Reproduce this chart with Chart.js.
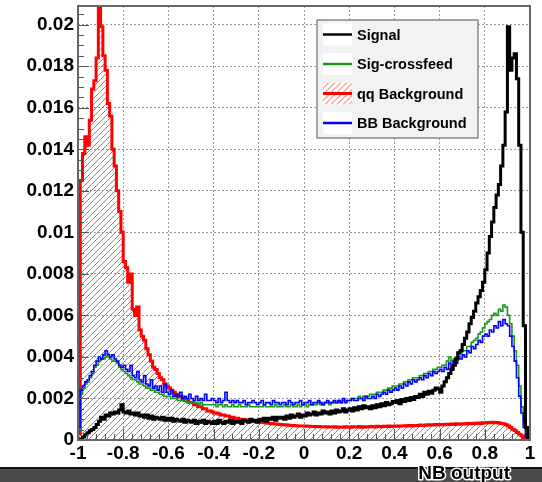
<!DOCTYPE html>
<html>
<head>
<meta charset="utf-8">
<script src="https://cdn.jsdelivr.net/npm/chart.js@4.4.1/dist/chart.umd.min.js"></script>
<style>
  html, body { margin: 0; padding: 0; background: #fff; }
  canvas { display: block; }
</style>
</head>
<body>
<canvas id="nb_output" width="542" height="482"></canvas>
<script>
// NB output histograms, 200 bins of 0.01 from -1 to 1 (one row = 0.1)
const binWidth = 0.01;

const signal = [
  0, 0.00005, 0.00015, 0.00025, 0.00035, 0.00045, 0.0005, 0.0006, 0.00075, 0.0009,
  0.0011, 0.001, 0.0012, 0.00115, 0.0013, 0.00125, 0.00135, 0.0013, 0.00145, 0.0017,
  0.00135, 0.0013, 0.0014, 0.00125, 0.0013, 0.0012, 0.0013, 0.00115, 0.0012, 0.0011,
  0.0012, 0.00105, 0.00115, 0.001, 0.0011, 0.00105, 0.001, 0.0011, 0.00095, 0.00105,
  0.00095, 0.00105, 0.0009, 0.001, 0.00095, 0.0009, 0.001, 0.00085, 0.00095, 0.0009,
  0.00085, 0.00095, 0.0008, 0.0009, 0.00085, 0.00095, 0.0008, 0.0009, 0.00085, 0.0008,
  0.0009, 0.0008, 0.00095, 0.00085, 0.0008, 0.0009, 0.00085, 0.00095, 0.0008, 0.0009,
  0.00085, 0.0009, 0.0008, 0.00095, 0.0009, 0.00085, 0.001, 0.0009, 0.00095, 0.00085,
  0.001, 0.00095, 0.00105, 0.0009, 0.00105, 0.001, 0.0011, 0.00095, 0.0011, 0.00105,
  0.0011, 0.001, 0.00115, 0.00105, 0.0012, 0.0011, 0.00115, 0.00125, 0.0011, 0.0012,
  0.00115, 0.0013, 0.0012, 0.00125, 0.00135, 0.0012, 0.0013, 0.00125, 0.0014, 0.0013,
  0.00135, 0.00125, 0.0014, 0.0013, 0.00145, 0.00135, 0.0014, 0.0015, 0.00135, 0.00145,
  0.0015, 0.0014, 0.00155, 0.00145, 0.0016, 0.0015, 0.00165, 0.00155, 0.0016, 0.0015,
  0.00165, 0.00155, 0.0017, 0.0016, 0.00175, 0.00165, 0.0018, 0.0017, 0.00175, 0.00185,
  0.0018, 0.0019, 0.00175, 0.00195, 0.00185, 0.002, 0.0019, 0.00205, 0.00195, 0.0021,
  0.00205, 0.0022, 0.0021, 0.0023, 0.0022, 0.00235, 0.00225, 0.0024, 0.0025, 0.00245,
  0.0023, 0.0026, 0.0028, 0.003, 0.0032, 0.0034, 0.0036, 0.0039, 0.0042, 0.0043,
  0.0046, 0.0049, 0.0052, 0.0056, 0.0059, 0.0062, 0.0066, 0.0069, 0.0072, 0.0076,
  0.0082, 0.009, 0.0098, 0.0105, 0.0112, 0.0118, 0.0123, 0.0132, 0.0142, 0.0158,
  0.0199, 0.0178, 0.0184, 0.0186, 0.0174, 0.0142, 0.01, 0.0055, 0.0006, 0
];

const sigCrossfeed = [
  0.0005, 0.0022, 0.0025, 0.0027, 0.0028, 0.003, 0.0032, 0.0035, 0.0036, 0.0038,
  0.0039, 0.0039, 0.004, 0.004, 0.0039, 0.0038, 0.0038, 0.0037, 0.0035, 0.0034,
  0.0033, 0.0032, 0.0031, 0.003, 0.0029, 0.0029, 0.0028, 0.0027, 0.0027, 0.0026,
  0.0025, 0.0025, 0.0024, 0.0024, 0.0023, 0.0023, 0.0022, 0.0022, 0.0021, 0.0021,
  0.0021, 0.002, 0.002, 0.002, 0.0019, 0.0019, 0.0019, 0.0019, 0.0018, 0.0018,
  0.0018, 0.0018, 0.0018, 0.0017, 0.0018, 0.0017, 0.0017, 0.0017, 0.0017, 0.0017,
  0.0017, 0.0016, 0.0017, 0.0017, 0.0016, 0.0017, 0.0016, 0.0016, 0.0017, 0.0016,
  0.0016, 0.0017, 0.0016, 0.0016, 0.0016, 0.0017, 0.0016, 0.0016, 0.0016, 0.0016,
  0.0016, 0.0016, 0.0017, 0.0016, 0.0016, 0.0016, 0.0016, 0.0017, 0.0016, 0.0016,
  0.0016, 0.0017, 0.0016, 0.0016, 0.0017, 0.0016, 0.0016, 0.0017, 0.0016, 0.0017,
  0.0017, 0.0016, 0.0017, 0.0017, 0.0017, 0.0017, 0.0018, 0.0017, 0.0017, 0.0018,
  0.0018, 0.0017, 0.0018, 0.0018, 0.0018, 0.0019, 0.0018, 0.0019, 0.0019, 0.0019,
  0.0019, 0.002, 0.002, 0.002, 0.0021, 0.002, 0.0021, 0.0021, 0.0021, 0.0022,
  0.0022, 0.0022, 0.0023, 0.0023, 0.0023, 0.0024, 0.0024, 0.0025, 0.0025, 0.0026,
  0.0026, 0.0026, 0.0027, 0.0027, 0.0028, 0.0028, 0.0029, 0.0029, 0.003, 0.003,
  0.003, 0.0031, 0.0031, 0.0032, 0.0032, 0.0033, 0.0033, 0.0034, 0.0034, 0.0035,
  0.0035, 0.0036, 0.0036, 0.0038, 0.004, 0.0038, 0.0039, 0.004, 0.0041, 0.0042,
  0.0043, 0.0043, 0.0045, 0.0045, 0.0047, 0.0048, 0.0049, 0.0051, 0.0052, 0.0054,
  0.0056, 0.0057, 0.0058, 0.006, 0.0061, 0.006, 0.0063, 0.0062, 0.0065, 0.0064,
  0.006, 0.0056, 0.005, 0.0043, 0.0036, 0.0026, 0.0016, 0.0009, 0.0003, 0
];

const qqBackground = [
  0.0003, 0.0125, 0.0138, 0.0146, 0.0142, 0.0154, 0.0169, 0.0173, 0.0184, 0.0216,
  0.0199, 0.0185, 0.0178, 0.0162, 0.0156, 0.014, 0.0132, 0.012, 0.011, 0.01,
  0.0086, 0.0083, 0.0076, 0.008, 0.0063, 0.006, 0.0064, 0.0053, 0.005, 0.0048,
  0.0044, 0.0041, 0.0038, 0.0035, 0.0034, 0.0032, 0.003, 0.0029, 0.0027, 0.0026,
  0.0025, 0.0024, 0.0023, 0.0022, 0.0021, 0.0021, 0.002, 0.0019, 0.0019, 0.0018,
  0.0018, 0.0017, 0.0017, 0.0016, 0.0016, 0.0015, 0.0015, 0.0014, 0.0014, 0.00135,
  0.0013, 0.0013, 0.00125, 0.0012, 0.0012, 0.00115, 0.00115, 0.0011, 0.0011, 0.00105,
  0.00105, 0.001, 0.001, 0.00098, 0.00096, 0.00095, 0.00093, 0.00092, 0.0009, 0.00088,
  0.00087, 0.00085, 0.00084, 0.00082, 0.00081, 0.0008, 0.00078, 0.00077, 0.00076, 0.00075,
  0.00074, 0.00073, 0.00072, 0.00071, 0.0007, 0.0007, 0.00069, 0.00068, 0.00068, 0.00067,
  0.00067, 0.00066, 0.00066, 0.00065, 0.00065, 0.00064, 0.00065, 0.00064, 0.00064, 0.00063,
  0.00064, 0.00063, 0.00063, 0.00064, 0.00062, 0.00063, 0.00063, 0.00062, 0.00064, 0.00063,
  0.00062, 0.00064, 0.00063, 0.00063, 0.00065, 0.00062, 0.00064, 0.00063, 0.00064, 0.00065,
  0.00064, 0.00063, 0.00066, 0.00065, 0.00064, 0.00066, 0.00065, 0.00067, 0.00065, 0.00066,
  0.00067, 0.00066, 0.00068, 0.00067, 0.00069, 0.00068, 0.0007, 0.00068, 0.0007, 0.00069,
  0.0007, 0.00072, 0.0007, 0.00071, 0.00073, 0.00072, 0.00074, 0.00072, 0.00075, 0.00073,
  0.00074, 0.00075, 0.00073, 0.00076, 0.00075, 0.00077, 0.00075, 0.00078, 0.00076, 0.00077,
  0.00078, 0.00077, 0.0008, 0.00078, 0.00079, 0.00081, 0.0008, 0.00082, 0.0008, 0.00083,
  0.00082, 0.00084, 0.00083, 0.00085, 0.00083, 0.00084, 0.00082, 0.0008, 0.00078, 0.00074,
  0.00068, 0.0006, 0.00052, 0.00044, 0.00036, 0.00028, 0.0002, 0.00012, 0.00005, 0
];

const bbBackground = [
  0.0006, 0.0024, 0.0026, 0.0028, 0.0029, 0.0031, 0.0033, 0.0036, 0.0038, 0.004,
  0.0039, 0.0041, 0.0043, 0.0041, 0.004, 0.0041, 0.0039, 0.0038, 0.0036, 0.0035,
  0.0036, 0.0034, 0.0033, 0.0036, 0.0031, 0.003, 0.0033, 0.0029, 0.0028, 0.0031,
  0.0027, 0.0026, 0.0029, 0.0025, 0.0026, 0.0024, 0.0026, 0.0023, 0.0027, 0.0023,
  0.0022, 0.0024, 0.0021, 0.0022, 0.0021, 0.0023, 0.002, 0.0021, 0.002, 0.0022,
  0.002, 0.0019, 0.0021, 0.0019, 0.002, 0.0019, 0.0022, 0.0019, 0.0019, 0.002,
  0.0019, 0.0018, 0.002, 0.0018, 0.0019, 0.0023, 0.0019, 0.0018, 0.0019, 0.0018,
  0.0019, 0.0018, 0.0018, 0.0019, 0.0017, 0.0018, 0.0018, 0.0019, 0.0018, 0.0017,
  0.0018, 0.0019, 0.0017, 0.0018, 0.0018, 0.0017, 0.0019, 0.0018, 0.0018, 0.0017,
  0.0018, 0.0018, 0.0017, 0.0019, 0.0018, 0.0017, 0.0018, 0.0018, 0.0019, 0.0017,
  0.0018, 0.0018, 0.0019, 0.0017, 0.0018, 0.0018, 0.0019, 0.0018, 0.0017, 0.0018,
  0.0019, 0.0018, 0.0018, 0.0019, 0.0018, 0.0019, 0.0018, 0.002, 0.0018, 0.0019,
  0.0019, 0.002, 0.0019, 0.0019, 0.002, 0.002, 0.0019, 0.0021, 0.002, 0.002,
  0.0021, 0.002, 0.0022, 0.0021, 0.0022, 0.0023, 0.0022, 0.0024, 0.0023, 0.0024,
  0.0025, 0.0024, 0.0026, 0.0025, 0.0027, 0.0026, 0.0028, 0.0027, 0.0029, 0.0028,
  0.0029, 0.003, 0.0029, 0.0031, 0.003, 0.0032, 0.0031, 0.0033, 0.0032, 0.0033,
  0.0034, 0.0033, 0.0035, 0.0034, 0.0037, 0.0035, 0.0038, 0.0037, 0.004, 0.0039,
  0.0041, 0.004, 0.0043, 0.0042, 0.0045, 0.0044, 0.0046, 0.0048, 0.0047, 0.005,
  0.0051, 0.005, 0.0053, 0.0052, 0.0055, 0.0054, 0.0057, 0.0055, 0.0058, 0.0056,
  0.0055, 0.005, 0.0045, 0.0038, 0.003, 0.0021, 0.0013, 0.0006, 0.00015, 0
];

const xTicks = [-1, -0.8, -0.6, -0.4, -0.2, 0, 0.2, 0.4, 0.6, 0.8, 1];
const yTicks = [0, 0.002, 0.004, 0.006, 0.008, 0.01, 0.012, 0.014, 0.016, 0.018, 0.02];
const yMax = 0.0209;

const FONT = "'Liberation Sans', Arial, Helvetica, sans-serif";
const HATCH = '#ff5050';
const HATCH_GAP = 6;

// bin low edges, last point closes the final bin at x = 1
const binEdges = signal.map((_, i) => -1 + i * binWidth);
function histPoints(values) {
  let pts = values.map((v, i) => ({ x: binEdges[i], y: v }));
  pts.push({ x: 1, y: values[values.length - 1] });
  return pts;
}

// "/" hatch lines inside the current clip (legend sample)
function hatchLines(ctx, left, top, right, bottom, gap) {
  let h = bottom - top;
  ctx.strokeStyle = HATCH;
  ctx.lineWidth = 1;
  ctx.beginPath();
  for (let d = left - h; d < right; d += gap) {
    ctx.moveTo(d, bottom); ctx.lineTo(d + h, top);
  }
  ctx.stroke();
}

// hatch under a histogram, cut bin by bin
function hatchUnder(chart, idx) {
  let { ctx, chartArea: a } = chart;
  let pts = chart.getDatasetMeta(idx).data;
  let base = chart.scales.y.getPixelForValue(0);
  let d0 = a.left - (base - a.top) - HATCH_GAP;
  ctx.save();
  ctx.strokeStyle = HATCH;
  ctx.lineWidth = 1;
  ctx.beginPath();
  for (let i = 0; i < pts.length - 1; i++) {
    let x0 = pts[i].x, x1 = pts[i + 1].x;
    let h = base - Math.max(a.top, pts[i].y);
    if (h <= 0) continue;
    for (let d = d0; d < x1; d += HATCH_GAP) {
      let xa = Math.max(x0, d), xb = Math.min(x1, d + h);
      if (xb > xa) {
        ctx.moveTo(xa, base - (xa - d));
        ctx.lineTo(xb, base - (xb - d));
      }
    }
  }
  ctx.stroke();
  ctx.restore();
}

const rootFrame = {
  id: 'rootFrame',
  beforeDraw(chart) {
    let { ctx, width, height } = chart;
    ctx.save();
    // opaque page background so thin antialiased strokes keep their colour
    ctx.fillStyle = '#ffffff';
    ctx.fillRect(0, 0, width, height);
    ctx.fillStyle = '#4b4b4b';
    ctx.fillRect(0, 468, width, height - 468);
    ctx.fillStyle = '#111';
    ctx.fillRect(0, 467, width, 2);
    ctx.restore();
    // hatch sits under grid and histogram lines
    hatchUnder(chart, chart.data.datasets.findIndex(d => d.hatched));
  },
  afterDatasetsDraw(chart) {
    let { ctx, chartArea: a, scales: { x, y } } = chart;
    // ROOT style inward ticks and frame
    ctx.save();
    ctx.strokeStyle = '#555';
    ctx.lineWidth = 1;
    ctx.beginPath();
    for (let k = 0; k * 0.0005 < yMax; k++) {
      let py = Math.round(y.getPixelForValue(k * 0.0005)) + 0.5;
      let len = k % 4 ? 6 : 11;
      ctx.moveTo(a.left, py); ctx.lineTo(a.left + len, py);
    }
    for (let k = 0; k <= 50; k++) {
      let px = Math.round(x.getPixelForValue(-1 + k * 0.04)) + 0.5;
      let len = k % 5 ? 6 : 11;
      ctx.moveTo(px, a.bottom); ctx.lineTo(px, a.bottom - len);
    }
    ctx.stroke();
    ctx.strokeStyle = '#666';
    ctx.lineWidth = 2;
    ctx.strokeRect(a.left, a.top, a.right - a.left, a.bottom - a.top);
    ctx.restore();
  },
  afterDraw(chart) {
    let ctx = chart.ctx;
    ctx.save();
    // axis title sitting on the dark strip
    ctx.font = 'bold 19px ' + FONT;
    ctx.textAlign = 'right';
    ctx.textBaseline = 'middle';
    ctx.lineJoin = 'round';
    ctx.strokeStyle = '#fff';
    ctx.lineWidth = 3;
    ctx.strokeText('NB output', 510, 474);
    ctx.fillStyle = '#000';
    ctx.fillText('NB output', 510, 474);

    // legend box
    let L = { x: 317, y: 20, w: 161, h: 118 };
    ctx.fillStyle = '#f2f2f2';
    ctx.fillRect(L.x, L.y, L.w, L.h);
    ctx.strokeStyle = '#888';
    ctx.lineWidth = 1.5;
    ctx.strokeRect(L.x, L.y, L.w, L.h);
    ctx.font = 'bold 14.5px ' + FONT;
    ctx.textAlign = 'left';
    chart.data.datasets.forEach((ds, i) => {
      let cy = L.y + 14.5 + i * 29.5;
      let sx = L.x + 6, sy = cy - 11;
      ctx.fillStyle = '#fff';
      ctx.fillRect(sx, sy, 29, 22);
      if (ds.hatched) {
        ctx.save();
        ctx.beginPath();
        ctx.rect(sx, sy, 29, 22);
        ctx.clip();
        hatchLines(ctx, sx, sy, sx + 29, sy + 22, HATCH_GAP);
        ctx.restore();
      }
      ctx.strokeStyle = ds.borderColor;
      ctx.lineWidth = ds.hatched ? 3 : 2.5;
      ctx.beginPath();
      ctx.moveTo(sx, cy); ctx.lineTo(sx + 29, cy);
      ctx.stroke();
      ctx.fillStyle = '#000';
      ctx.fillText(ds.label, L.x + 40, cy + 1);
    });
    ctx.restore();
  }
};

let datasets = [
  { label: 'Signal', data: histPoints(signal), borderColor: '#000', borderWidth: 3, order: 0 },
  { label: 'Sig-crossfeed', data: histPoints(sigCrossfeed), borderColor: '#1a9a1a', borderWidth: 1.6, order: 2 },
  { label: 'qq Background', data: histPoints(qqBackground), borderColor: '#ff0000', borderWidth: 3, order: 3, hatched: true },
  { label: 'BB Background', data: histPoints(bbBackground), borderColor: '#0000ff', borderWidth: 1.6, order: 1 }
];

let tickFont = { family: FONT, size: 19, weight: 'bold' };

new Chart(document.getElementById('nb_output'), {
  type: 'line',
  data: { datasets },
  options: {
    responsive: false,
    animation: false,
    layout: { autoPadding: false, padding: { left: 0, right: 12, top: 6, bottom: 0 } },
    elements: { point: { radius: 0 }, line: { stepped: true, tension: 0, fill: false, borderJoinStyle: 'miter' } },
    plugins: { legend: { display: false }, tooltip: { enabled: false } },
    scales: {
      x: {
        type: 'linear', min: -1, max: 1,
        afterBuildTicks: s => { s.ticks = xTicks.map(v => ({ value: v })); },
        afterFit: s => { s.height = 42; s.paddingLeft = 0; s.paddingRight = 0; },
        ticks: { autoSkip: false, maxRotation: 0, color: '#000', font: tickFont, padding: 2,
                 callback: v => String(+v.toFixed(1)) },
        grid: { color: '#999', lineWidth: 1, drawTicks: false },
        border: { display: false, dash: [2, 2] }
      },
      y: {
        type: 'linear', min: 0, max: yMax,
        afterBuildTicks: s => { s.ticks = yTicks.map(v => ({ value: v })); },
        afterFit: s => { s.width = 78; s.paddingTop = 0; s.paddingBottom = 0; },
        ticks: { autoSkip: false, color: '#000', font: tickFont, padding: 4,
                 callback: v => String(+v.toFixed(3)) },
        grid: { color: '#999', lineWidth: 1, drawTicks: false },
        border: { display: false, dash: [2, 2] }
      }
    }
  },
  plugins: [rootFrame]
});
</script>
</body>
</html>
